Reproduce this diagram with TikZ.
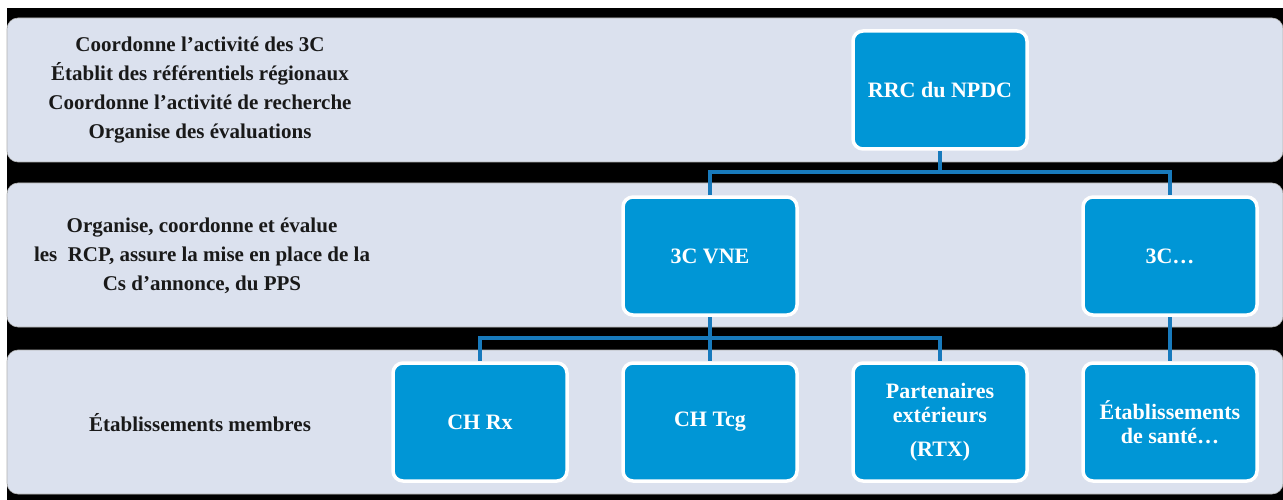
\documentclass[tikz,border=0pt]{standalone}
\usepackage{fontspec}
\setmainfont{Liberation Serif}
\usetikzlibrary{backgrounds}
\definecolor{bandfill}{RGB}{219,225,238}
\definecolor{boxfill}{RGB}{0,150,214}
\definecolor{linkcol}{RGB}{24,122,188}
\tikzset{
  band/.style={fill=bandfill, draw=gray!60, line width=0.6pt, rounded corners=11pt},
  orgbox/.style={rectangle, rounded corners=10pt, fill=boxfill, draw=white, line width=3.5pt,
    minimum width=174pt, minimum height=118pt, text=white, font=\fontsize{22}{24}\selectfont\bfseries,
    align=center, inner sep=2pt},
  desc/.style={align=center, text=black!90, font=\fontsize{21}{29}\selectfont\bfseries},
  link/.style={draw=linkcol, line width=4pt}
}
\begin{document}
\begin{tikzpicture}[x=1pt,y=-1pt]
\useasboundingbox (0,0) rectangle (1283,500);
% descriptions
\node[desc] (d1) at (200,90) {Coordonne l’activité des 3C\\Établit des référentiels régionaux\\Coordonne l’activité de recherche\\Organise des évaluations};
\node[desc] (d2) at (202,256) {Organise, coordonne et évalue\\les\ \ RCP, assure la mise en place de la\\Cs d’annonce, du PPS};
\node[desc] (d3) at (200,423) {Établissements membres};
% boxes
\node[orgbox] (rrc) at (940,90) {RRC du NPDC};
\node[orgbox] (vne) at (710,256) {3C VNE};
\node[orgbox] (c3) at (1170,256) {3C…};
\node[orgbox] (rx) at (480,422) {CH Rx};
\node[orgbox] (tcg) at (710,422) {CH Tcg};
\node[orgbox] (part) at (940,422) {Partenaires\\extérieurs\\[10pt](RTX)};
\node[orgbox] (etab) at (1170,422) {Établissements\\de santé…};
\begin{scope}[on background layer]
\fill[white] (0,0) rectangle (1283,500);
\fill[black] (7,8) rectangle (1283,500);
% bands
\path[band] (7,18) rectangle (1283,162);
\path[band] (7,183) rectangle (1283,327);
\path[band] (7,350) rectangle (1283,494);
% connectors
\coordinate (j1) at (940,172);
\coordinate (j2) at (710,338);
\draw[link] (rrc.south) -- (j1);
\draw[link] (vne.north) |- (j1) -| (c3.north);
\draw[link] (vne.south) -- (tcg.north);
\draw[link] (rx.north) |- (j2) -| (part.north);
\draw[link] (c3.south) -- (etab.north);
\end{scope}
\end{tikzpicture}
\end{document}
